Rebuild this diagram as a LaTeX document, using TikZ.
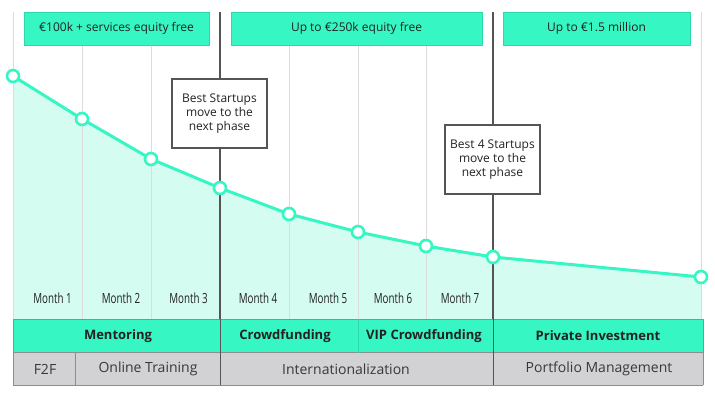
\documentclass[tikz,border=0pt]{standalone}
\usepackage{fontspec}
\setmainfont{Open Sans}
\newfontfamily\condfont[FakeStretch=0.7]{Open Sans}
\definecolor{mint}{HTML}{36F6C3}
\definecolor{mintedge}{HTML}{2ED8A8}
\definecolor{pale}{HTML}{D5FCF0}
\definecolor{grayrow}{HTML}{D2D2D4}
\definecolor{gridc}{HTML}{DCDCDC}
\definecolor{darkline}{HTML}{555555}
\definecolor{rowedge}{HTML}{8E8E8E}
\definecolor{txt}{HTML}{222222}
\tikzset{
  topbox/.style={fill=mint, draw=mintedge, line width=0.6pt, inner sep=0pt, text=txt},
  callout/.style={fill=white, draw=darkline, line width=1.2pt, align=center, text=txt, inner sep=0pt, font=\fontsize{12}{14}\selectfont},
  dot/.style={circle, fill=white, draw=mint, line width=2.6pt, minimum size=12pt, inner sep=0pt},
  monthlbl/.style={text=txt, font=\condfont\fontsize{14}{15}\selectfont},
  bandlbl/.style={text=txt, font=\bfseries\fontsize{13}{14}\selectfont},
  rowlbl/.style={text=txt!90, font=\fontsize{14}{15}\selectfont},
  gridline/.style={gridc, line width=0.9pt},
  phaseline/.style={darkline, line width=1.2pt}
}
\begin{document}
\begin{tikzpicture}[x=1pt,y=-1pt, font=\fontsize{12}{14}\selectfont]
\useasboundingbox (0,0) rectangle (715,398);
% data points
\coordinate (p1) at (13,76);
\coordinate (p2) at (82,119);
\coordinate (p3) at (151,159);
\coordinate (p4) at (220,188);
\coordinate (p5) at (289,214);
\coordinate (p6) at (358,232);
\coordinate (p7) at (426,246);
\coordinate (p8) at (493,257);
\coordinate (p9) at (701,277);
% area under curve
\fill[pale] (13,319) -- (p1) -- (p2) -- (p3) -- (p4) -- (p5) -- (p6) -- (p7) -- (p8) -- (p9) -- (701,319) -- cycle;
% grid lines
\foreach \gx in {13,82,151,289,358,426,701} {
  \draw[gridline] (\gx,12) -- (\gx,319);
}
\draw[phaseline] (220,12) -- (220,319);
\draw[phaseline] (493,12) -- (493,319);
% top boxes
\node[topbox, minimum width=185pt, minimum height=33pt] (t1) at (116.5,28.5) {€100k + services equity free};
\node[topbox, minimum width=251pt, minimum height=33pt] (t2) at (356.5,28.5) {Up to €250k equity free};
\node[topbox, minimum width=187pt, minimum height=33pt] (t3) at (596.5,28.5) {Up to €1.5 million};
% callouts
\node[callout, minimum width=95pt, minimum height=69pt] (c1) at (219.5,113.5) {Best Startups\\move to the\\next phase};
\node[callout, minimum width=95pt, minimum height=69pt] (c2) at (492.5,159.5) {Best 4 Startups\\move to the\\next phase};
% curve
\draw[mint, line width=3pt, line join=round] (p1) -- (p2) -- (p3) -- (p4) -- (p5) -- (p6) -- (p7) -- (p8) -- (p9);
\foreach \i in {1,...,9} {
  \node[dot] (d\i) at (p\i) {};
}
% month labels
\node[monthlbl] (m1) at (52.5,298) {Month 1};
\node[monthlbl] (m2) at (121,298) {Month 2};
\node[monthlbl] (m3) at (188.5,298) {Month 3};
\node[monthlbl] (m4) at (258,298) {Month 4};
\node[monthlbl] (m5) at (328,298) {Month 5};
\node[monthlbl] (m6) at (393,298) {Month 6};
\node[monthlbl] (m7) at (460,298) {Month 7};
% band rows
\fill[mint] (13,319) rectangle (703,352.5);
\fill[grayrow] (13,352.5) rectangle (703,385);
\draw[rowedge, line width=0.8pt] (13,319) -- (703,319);
\draw[rowedge, line width=0.8pt] (13,352.5) -- (703,352.5);
\draw[rowedge, line width=1pt] (13,385) -- (703,385);
\draw[rowedge, line width=0.8pt] (13,319) -- (13,385);
\draw[rowedge, line width=0.8pt] (703,319) -- (703,385);
\draw[phaseline, line width=1pt] (220,319) -- (220,385);
\draw[phaseline, line width=1pt] (493,319) -- (493,385);
\draw[mintedge, line width=0.7pt] (358,319) -- (358,352.5);
\draw[rowedge, line width=1pt] (75,352.5) -- (75,385);
\node[bandlbl] (b1) at (118,336) {Mentoring};
\node[bandlbl] (b2) at (285,336) {Crowdfunding};
\node[bandlbl] (b3) at (424,336) {VIP Crowdfunding};
\node[bandlbl] (b4) at (598,336) {Private Investment};
\node[rowlbl] (r1) at (45,369) {F2F};
\node[rowlbl] (r2) at (148,369) {Online Training};
\node[rowlbl] (r3) at (346,369) {Internationalization};
\node[rowlbl] (r4) at (599,369) {Portfolio Management};
\end{tikzpicture}
\end{document}
